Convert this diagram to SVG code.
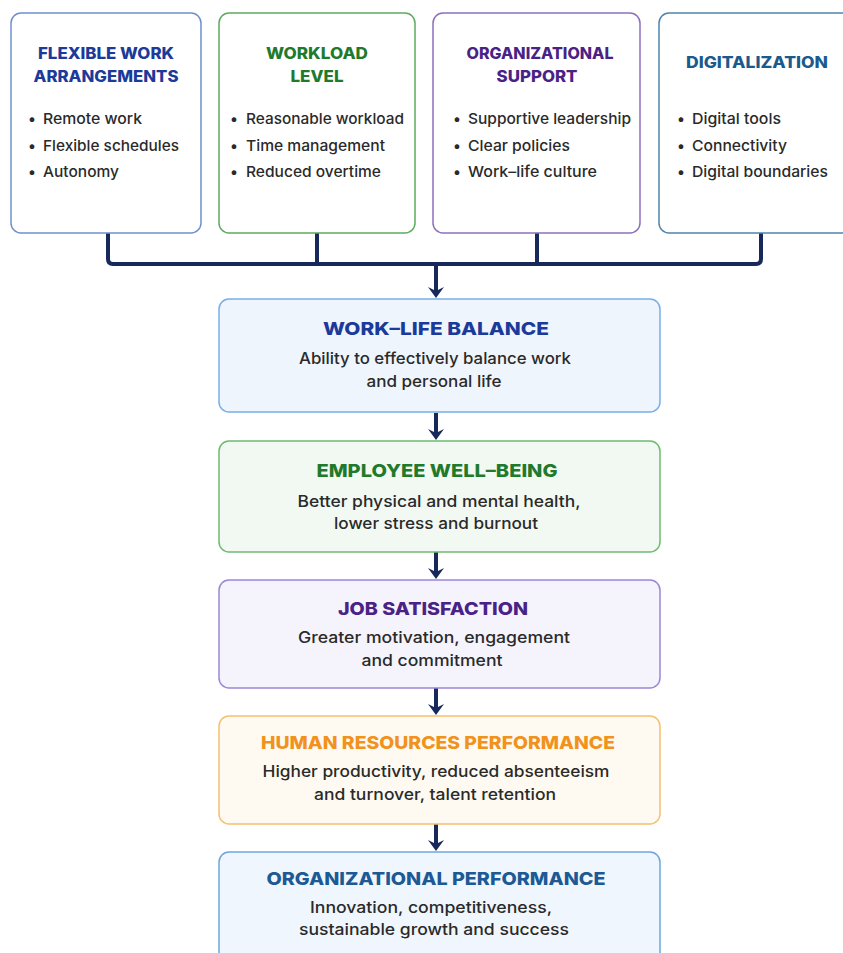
<svg xmlns="http://www.w3.org/2000/svg" width="843" height="953" viewBox="0 0 843 953">
<style>
.t{font-family:Inter,"Liberation Sans",sans-serif;font-weight:800;text-anchor:middle}
.tt{font-size:15.5px}
.mt{font-size:17.5px}
.b{font-family:Inter,"Liberation Sans",sans-serif;font-size:15px;font-weight:500;fill:#2a2a2a}
.dot{font-family:Inter,"Liberation Sans",sans-serif;font-size:15px;fill:#2a2a2a;text-anchor:middle}
.d{font-family:Inter,"Liberation Sans",sans-serif;font-size:16px;font-weight:500;fill:#2a2a2a;text-anchor:middle}
.c{fill:none;stroke:#17295a;stroke-width:4;stroke-linejoin:round}
.h{fill:#17295a}
</style>
<defs>
<path id="head" d="M-8,-11 L0,0 L8,-11 L0,-7 z"/>
</defs>
<rect width="843" height="953" fill="#ffffff"/>
<g id="connectors">
<path class="c" d="M108,233 V259 Q108,264 113,264 H756 Q761,264 761,259 V233"/>
<path class="c" d="M317,233 V264"/>
<path class="c" d="M537,233 V264"/>
<path class="c" d="M436,264 V291"/>
<use href="#head" class="h" x="436" y="298"/>
<path class="c" d="M436,413 V433"/>
<use href="#head" class="h" x="436" y="440"/>
<path class="c" d="M436,552 V572"/>
<use href="#head" class="h" x="436" y="579"/>
<path class="c" d="M436,688 V708"/>
<use href="#head" class="h" x="436" y="715"/>
<path class="c" d="M436,824 V844"/>
<use href="#head" class="h" x="436" y="851"/>
</g>
<g id="flex">
<rect x="11" y="13" width="190" height="220" rx="10" fill="#ffffff" stroke="#7090cc" stroke-width="1.5"/>
<text class="t tt" x="106" y="59" fill="#1c3a9a" textLength="136" lengthAdjust="spacingAndGlyphs">FLEXIBLE WORK</text>
<text class="t tt" x="106" y="82" fill="#1c3a9a" textLength="145" lengthAdjust="spacingAndGlyphs">ARRANGEMENTS</text>
<text class="dot" x="32" y="124">•</text><text class="b" x="43" y="124" textLength="99" lengthAdjust="spacingAndGlyphs">Remote work</text>
<text class="dot" x="32" y="151">•</text><text class="b" x="43" y="151" textLength="136" lengthAdjust="spacingAndGlyphs">Flexible schedules</text>
<text class="dot" x="32" y="177">•</text><text class="b" x="43" y="177" textLength="76" lengthAdjust="spacingAndGlyphs">Autonomy</text>
</g>
<g id="workload">
<rect x="219" y="13" width="196" height="220" rx="10" fill="#ffffff" stroke="#5eab5e" stroke-width="1.5"/>
<text class="t tt" x="317" y="59" fill="#1f7a2c" textLength="102" lengthAdjust="spacingAndGlyphs">WORKLOAD</text>
<text class="t tt" x="317" y="82" fill="#1f7a2c" textLength="53" lengthAdjust="spacingAndGlyphs">LEVEL</text>
<text class="dot" x="234" y="124">•</text><text class="b" x="246" y="124" textLength="158" lengthAdjust="spacingAndGlyphs">Reasonable workload</text>
<text class="dot" x="234" y="151">•</text><text class="b" x="246" y="151" textLength="139" lengthAdjust="spacingAndGlyphs">Time management</text>
<text class="dot" x="234" y="177">•</text><text class="b" x="246" y="177" textLength="135" lengthAdjust="spacingAndGlyphs">Reduced overtime</text>
</g>
<g id="orgsupport">
<rect x="433" y="13" width="207" height="220" rx="10" fill="#ffffff" stroke="#8c70bc" stroke-width="1.5"/>
<text class="t tt" x="540" y="59" fill="#4a2286" textLength="147" lengthAdjust="spacingAndGlyphs">ORGANIZATIONAL</text>
<text class="t tt" x="537" y="82" fill="#4a2286" textLength="81" lengthAdjust="spacingAndGlyphs">SUPPORT</text>
<text class="dot" x="457" y="124">•</text><text class="b" x="468" y="124" textLength="163" lengthAdjust="spacingAndGlyphs">Supportive leadership</text>
<text class="dot" x="457" y="151">•</text><text class="b" x="468" y="151" textLength="102" lengthAdjust="spacingAndGlyphs">Clear policies</text>
<text class="dot" x="457" y="177">•</text><text class="b" x="468" y="177" textLength="129" lengthAdjust="spacingAndGlyphs">Work–life culture</text>
</g>
<g id="digital">
<rect x="659" y="13" width="200" height="220" rx="10" fill="#ffffff" stroke="#4f84ad" stroke-width="1.5"/>
<text class="t tt" x="757" y="68" fill="#1b5a8c" textLength="142" lengthAdjust="spacingAndGlyphs">DIGITALIZATION</text>
<text class="dot" x="681" y="124">•</text><text class="b" x="692" y="124" textLength="89" lengthAdjust="spacingAndGlyphs">Digital tools</text>
<text class="dot" x="681" y="151">•</text><text class="b" x="692" y="151" textLength="95" lengthAdjust="spacingAndGlyphs">Connectivity</text>
<text class="dot" x="681" y="177">•</text><text class="b" x="692" y="177" textLength="136" lengthAdjust="spacingAndGlyphs">Digital boundaries</text>
</g>
<g id="wlb">
<rect x="219" y="299" width="441" height="113" rx="10" fill="#eff5fd" stroke="#78aee8" stroke-width="1.5"/>
<text class="t mt" x="436" y="335" fill="#1c3a9a" textLength="226" lengthAdjust="spacingAndGlyphs">WORK–LIFE BALANCE</text>
<text class="d" x="435" y="364" textLength="272" lengthAdjust="spacingAndGlyphs">Ability to effectively balance work</text>
<text class="d" x="434" y="387" textLength="135" lengthAdjust="spacingAndGlyphs">and personal life</text>
</g>
<g id="wellbeing">
<rect x="219" y="441" width="441" height="111" rx="10" fill="#f2f9f2" stroke="#6fbb70" stroke-width="1.5"/>
<text class="t mt" x="437" y="477" fill="#1f7a2c" textLength="241" lengthAdjust="spacingAndGlyphs">EMPLOYEE WELL–BEING</text>
<text class="d" x="439" y="507" textLength="283" lengthAdjust="spacingAndGlyphs">Better physical and mental health,</text>
<text class="d" x="436" y="529" textLength="204" lengthAdjust="spacingAndGlyphs">lower stress and burnout</text>
</g>
<g id="jobsat">
<rect x="219" y="580" width="441" height="108" rx="10" fill="#f5f3fc" stroke="#9c86d6" stroke-width="1.5"/>
<text class="t mt" x="433" y="615" fill="#4a2286" textLength="190" lengthAdjust="spacingAndGlyphs">JOB SATISFACTION</text>
<text class="d" x="434" y="643" textLength="272" lengthAdjust="spacingAndGlyphs">Greater motivation, engagement</text>
<text class="d" x="432" y="666" textLength="141" lengthAdjust="spacingAndGlyphs">and commitment</text>
</g>
<g id="hr">
<rect x="219" y="716" width="441" height="108" rx="10" fill="#fffaf1" stroke="#f5c070" stroke-width="1.5"/>
<text class="t mt" x="438" y="749" fill="#f0921c" textLength="354" lengthAdjust="spacingAndGlyphs">HUMAN RESOURCES PERFORMANCE</text>
<text class="d" x="436" y="777" textLength="347" lengthAdjust="spacingAndGlyphs">Higher productivity, reduced absenteeism</text>
<text class="d" x="435" y="800" textLength="242" lengthAdjust="spacingAndGlyphs">and turnover, talent retention</text>
</g>
<g id="orgperf">
<rect x="219" y="852" width="441" height="120" rx="10" fill="#f0f6fd" stroke="#6ea6dc" stroke-width="1.5"/>
<text class="t mt" x="436" y="885" fill="#1d5a95" textLength="339" lengthAdjust="spacingAndGlyphs">ORGANIZATIONAL PERFORMANCE</text>
<text class="d" x="431" y="913" textLength="242" lengthAdjust="spacingAndGlyphs">Innovation, competitiveness,</text>
<text class="d" x="434" y="935" textLength="270" lengthAdjust="spacingAndGlyphs">sustainable growth and success</text>
</g>
</svg>
